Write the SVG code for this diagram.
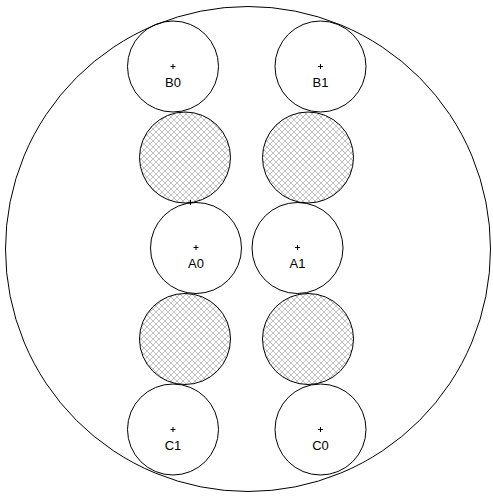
<svg xmlns="http://www.w3.org/2000/svg" width="493" height="497" viewBox="0 0 493 497">
<defs>
<pattern id="hatch" patternUnits="userSpaceOnUse" width="6" height="6">
<rect width="6" height="6" fill="#ffffff"/>
<path d="M0,0 L6,6 M6,0 L0,6" stroke="#a8a8a8" stroke-width="0.7"/>
</pattern>
</defs>
<style>
.c{fill:none;stroke:#000;stroke-width:1}
.h{fill:url(#hatch);stroke:#000;stroke-width:1}
.p{stroke:#000;stroke-width:1}
text{font-family:"Liberation Sans",Arial,sans-serif;font-size:13px;text-anchor:middle;fill:#000}
</style>
<rect width="493" height="497" fill="#fff"/>
<g id="outer"><circle class="c" cx="248" cy="249" r="242.5"/></g>
<g id="H0"><circle class="h" cx="185" cy="157.5" r="45.5"/></g>
<g id="H1"><circle class="h" cx="308" cy="157.5" r="45.5"/></g>
<g id="H2"><circle class="h" cx="185" cy="339" r="45.5"/></g>
<g id="H3"><circle class="h" cx="308" cy="339" r="45.5"/></g>
<g id="B0"><circle class="c" cx="173" cy="66.5" r="45.5"/><path class="p" d="M170.5,66.5h5M173,64v5"/><text x="173" y="86.5">B0</text></g>
<g id="B1"><circle class="c" cx="320.5" cy="66.5" r="45.5"/><path class="p" d="M318,66.5h5M320.5,64v5"/><text x="320.5" y="86.5">B1</text></g>
<g id="A0"><circle class="c" cx="196" cy="248" r="45.5"/><path class="p" d="M193.5,247.5h5M196,245v5"/><text x="196" y="267.5">A0</text><path class="p" d="M188,202.5h5M190.5,200v5"/></g>
<g id="A1"><circle class="c" cx="297.5" cy="248" r="45.5"/><path class="p" d="M295,247.5h5M297.5,245v5"/><text x="297.5" y="267.5">A1</text></g>
<g id="C1"><circle class="c" cx="173" cy="429.5" r="45.5"/><path class="p" d="M170.5,429.5h5M173,427v5"/><text x="173" y="449.5">C1</text></g>
<g id="C0"><circle class="c" cx="320.5" cy="429.5" r="45.5"/><path class="p" d="M318,429.5h5M320.5,427v5"/><text x="320.5" y="449.5">C0</text></g>
<g id="connectors"></g>
</svg>
